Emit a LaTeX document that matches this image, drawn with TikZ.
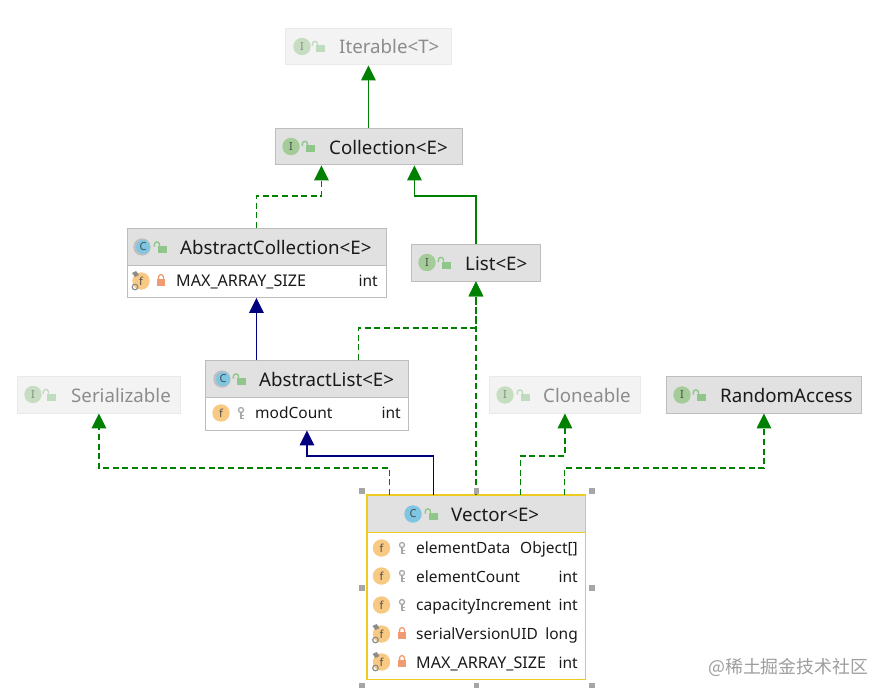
\documentclass[tikz,border=0pt]{standalone}
\usepackage{fontspec}
\setmainfont{Noto Sans}
\newfontfamily\cjkfont{Noto Sans CJK SC}
\usetikzlibrary{arrows.meta}
\definecolor{hdr}{HTML}{E1E1E1}
\definecolor{edge}{HTML}{BDBDBD}
\definecolor{fadehdr}{HTML}{F3F3F3}
\definecolor{fadeedge}{HTML}{EAEAEA}
\definecolor{gr}{HTML}{008000}
\definecolor{nv}{HTML}{00007F}
\definecolor{ink}{HTML}{1A1A1A}
\definecolor{fadeink}{HTML}{8C8C8C}
\definecolor{ibadge}{HTML}{A3CC98}
\definecolor{cbadge}{HTML}{7EC6E2}
\definecolor{fbadge}{HTML}{F8C982}
\definecolor{lockg}{HTML}{8FC78A}
\definecolor{locko}{HTML}{F09A72}
\definecolor{keyg}{HTML}{A8A8A8}
\definecolor{sel}{HTML}{EFCB1F}
\tikzset{
  x=1pt,y=-1pt,
  hbox/.style={draw=edge,fill=hdr,line width=0.9pt,rectangle,inner sep=0pt,anchor=north west},
  fadebox/.style={draw=fadeedge,fill=fadehdr,line width=0.9pt,rectangle,inner sep=0pt,anchor=north west},
  bodybox/.style={draw=edge,fill=white,line width=0.9pt,rectangle,inner sep=0pt,anchor=north west},
  title/.style={font=\fontsize{18.7}{21}\selectfont,text=ink,anchor=base west,inner sep=0pt,yshift=-7pt},
  fadetitle/.style={title,text=fadeink},
  field/.style={font=\fontsize{15.5}{18}\selectfont,text=ink,anchor=base west,inner sep=0pt,yshift=-5.3pt},
  capsfield/.style={field,font=\fontsize{16.1}{18}\selectfont},
  ftype/.style={font=\fontsize{15.5}{18}\selectfont,text=ink,anchor=base east,inner sep=0pt,yshift=-5.3pt},
  glyph/.style={font=\fontsize{11}{11}\selectfont,inner sep=0pt,text=black!70},
  solidgreen/.style={draw=gr,line width=1.2pt,-{Triangle[length=15pt,width=14.5pt,fill=gr]}},
  dashgreen/.style={solidgreen,dash pattern=on 6pt off 3.6pt},
  solidnavy/.style={draw=nv,line width=1.2pt,-{Triangle[length=15pt,width=14.5pt,fill=nv]}},
  handle/.style={fill=black!35,draw=none,minimum size=5.5pt,inner sep=0pt,rectangle},
}
% #1 x, #2 y, #3 letter, #4 colour, #5 opacity
\newcommand{\badge}[5]{%
  \fill[#4,opacity=#5] (#1,#2) circle[radius=8.7pt];
  \node[glyph,opacity=#5] at (#1,#2) {#3};}
\newcommand{\abbadge}[3]{%
  \fill[black!25] (#1,#2) circle[radius=8.7pt];
  \fill[cbadge] (#1+1,#2) circle[radius=7pt];
  \node[glyph] at (#1+1,#2) {#3};}
\newcommand{\openlock}[3]{%
  \begin{scope}[shift={(#1,#2)},opacity=#3]
    \fill[lockg] (-3,-1) rectangle (6,6);
    \draw[lockg,line width=1.4pt] (-1.5,-1) -- (-1.5,-2.5) arc[start angle=0,end angle=180,radius=2.6pt] -- (-6.7,-0.5);
  \end{scope}}
\newcommand{\closedlock}[2]{%
  \begin{scope}[shift={(#1,#2)}]
    \fill[locko] (-4,-1) rectangle (4,5.5);
    \draw[locko,line width=1.3pt] (-2.4,-1) -- (-2.4,-3) arc[start angle=180,end angle=0,radius=2.4pt] -- (2.4,-1);
  \end{scope}}
\newcommand{\keyicon}[2]{%
  \draw[keyg,line width=1.3pt] (#1,#2-3) circle[radius=2.5pt];
  \draw[keyg,line width=1.3pt] (#1,#2-0.5) -- (#1,#2+6) (#1,#2+2.5) -- (#1+2.5,#2+2.5) (#1,#2+5.5) -- (#1+2.5,#2+5.5);}
\newcommand{\pinmark}[2]{%
  \fill[black!45] (#1-9,#2-8) -- (#1-5,#2-10) -- (#1-2,#2-6) -- (#1-6,#2-4) -- cycle;
  \draw[black!45,line width=1.2pt] (#1-6,#2+6) circle[radius=2.8pt];}
\begin{document}
\begin{tikzpicture}
\useasboundingbox (0,0) rectangle (889,698);
\fill[white] (0,0) rectangle (889,698);

% class boxes
\node[fadebox,minimum width=166pt,minimum height=36.5pt] (iter) at (285,28) {};
\node[hbox,minimum width=187pt,minimum height=36.5pt] (coll) at (275,128) {};
\node[hbox,minimum width=129pt,minimum height=36.5pt] (list) at (411,244) {};
\node[fadebox,minimum width=163pt,minimum height=36.5pt] (seri) at (17,376) {};
\node[fadebox,minimum width=151pt,minimum height=36.5pt] (clon) at (489,376) {};
\node[hbox,minimum width=195pt,minimum height=36.5pt] (rand) at (666,376) {};

\node[bodybox,minimum width=259pt,minimum height=69pt] (absc) at (126.5,228) {};
\node[hbox,minimum width=259pt,minimum height=36.5pt] (abscH) at (126.5,228) {};
\node[bodybox,minimum width=203pt,minimum height=69.5pt] (absl) at (205,360) {};
\node[hbox,minimum width=203pt,minimum height=36.5pt] (abslH) at (205,360) {};

% connectors
\draw[solidgreen] (coll.north -| iter.south) -- (iter.south);
\draw[dashgreen] (absc.north) -- ++(0,-32) -| ([xshift=-47.5pt]coll.south);
\draw[solidgreen] (list.north) -- ++(0,-48) -| ([xshift=45.5pt]coll.south);
\draw[solidnavy] (absl.north -| absc.south) -- (absc.south);
\node[hbox,fill=white,draw=none,minimum width=218pt,minimum height=184pt] (vect) at (367,495) {};
\node[hbox,draw=none,minimum width=218pt,minimum height=37pt] (vectH) at (367,495) {};
\draw[sel,line width=1.05pt] (vectH.south west) -- (vectH.south east);
\draw[sel,line width=1.05pt] (vect.north west) rectangle (vect.south east);
\draw[dashgreen] ([xshift=51.5pt]absl.north) -- ++(0,-32) -| (list.south);
\draw[dashgreen] (vect.north -| list.south) -- (list.south);
\draw[solidnavy] ([xshift=-43pt]vect.north) -- ++(0,-39) -| (absl.south);
\draw[dashgreen] ([xshift=-87pt]vect.north) -- ++(0,-27) -| (seri.south);
\draw[dashgreen] ([xshift=44pt]vect.north) -- ++(0,-39) -| (clon.south);
\draw[dashgreen] ([xshift=88pt]vect.north) -- ++(0,-27) -| (rand.south);

% selection handles
\node[handle] (h1) at (362,491) {};
\node[handle] (h2) at (476.5,491) {};
\node[handle] (h3) at (592,491) {};
\node[handle] (h4) at (362,588) {};
\node[handle] (h5) at (592,588) {};
\node[handle] (h6) at (362,685.5) {};
\node[handle] (h7) at (476.5,685.5) {};
\node[handle] (h8) at (592,685.5) {};

% headers
\badge{302}{46.5}{I}{ibadge}{0.55}\openlock{319}{46.5}{0.5}
\node[fadetitle] (tIter) at (339,47) {Iterable<T>};
\badge{291}{146.5}{I}{ibadge}{1}\openlock{309}{146.5}{1}
\node[title] (tColl) at (329,147) {Collection<E>};
\abbadge{142}{247}{C}\openlock{161}{247}{1}
\node[title] (tAbsc) at (180,247) {AbstractCollection<E>};
\abbadge{222}{379}{C}\openlock{240}{379}{1}
\node[title] (tAbsl) at (259,379) {AbstractList<E>};
\badge{427}{262.5}{I}{ibadge}{1}\openlock{445}{262.5}{1}
\node[title] (tList) at (465,263) {List<E>};
\badge{33}{394.5}{I}{ibadge}{0.55}\openlock{50}{394.5}{0.5}
\node[fadetitle] (tSeri) at (71,395) {Serializable};
\badge{505}{395}{I}{ibadge}{0.55}\openlock{524}{395}{0.5}
\node[fadetitle] (tClon) at (543,395) {Cloneable};
\badge{682}{395}{I}{ibadge}{1}\openlock{700}{395}{1}
\node[title] (tRand) at (720,395) {RandomAccess};
\badge{413}{514}{C}{cbadge}{1}\openlock{432}{514}{1}
\node[title] (tVect) at (451,514) {Vector<E>};

% fields
\badge{141}{281}{f}{fbadge}{1}\pinmark{141}{281}\closedlock{161}{280}
\node[capsfield] (f1) at (176,281.5) {MAX\_ARRAY\_SIZE};
\node[ftype] (t1) at (378,281.5) {int};
\badge{221}{413}{f}{fbadge}{1}\keyicon{241}{413}
\node[field] (f2) at (255,413.5) {modCount};
\node[ftype] (t2) at (401,413.5) {int};

\badge{381.5}{548}{f}{fbadge}{1}\keyicon{402}{548}
\node[field] (f3) at (416,548.5) {elementData};
\node[ftype] (t3) at (578,548.5) {Object[]};
\badge{381.5}{576}{f}{fbadge}{1}\keyicon{402}{576}
\node[field] (f4) at (416,577.5) {elementCount};
\node[ftype] (t4) at (578,577.5) {int};
\badge{381.5}{605}{f}{fbadge}{1}\keyicon{402}{605}
\node[field] (f5) at (416,605.5) {capacityIncrement};
\node[ftype] (t5) at (578,605.5) {int};
\badge{381.5}{634}{f}{fbadge}{1}\pinmark{381.5}{634}\closedlock{402}{633}
\node[field] (f6) at (416,634.5) {serialVersionUID};
\node[ftype] (t6) at (578,634.5) {long};
\badge{381.5}{662}{f}{fbadge}{1}\pinmark{381.5}{662}\closedlock{402}{661}
\node[capsfield] (f7) at (416,663.5) {MAX\_ARRAY\_SIZE};
\node[ftype] (t7) at (578,663.5) {int};

% watermark
\node[anchor=west,inner sep=0pt,text=black!38,font=\cjkfont\fontsize{17.9}{20}\selectfont] (wm) at (708,667) {@稀土掘金技术社区};
\end{tikzpicture}
\end{document}
